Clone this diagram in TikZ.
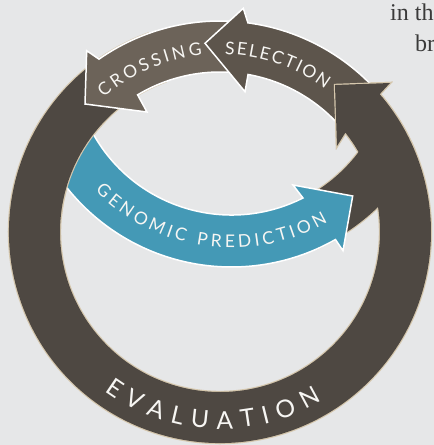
\documentclass[tikz,border=0pt]{standalone}
\usepackage{fontspec}
\setmainfont{Lato}
\newfontfamily\pageserif{Liberation Serif}
\usetikzlibrary{calc,decorations.text}

\definecolor{pagebg}{HTML}{E6E7E8}
\definecolor{ringbrown}{HTML}{4E4842}
\definecolor{ringedge}{HTML}{D5C7AD}
\definecolor{crossbrown}{HTML}{6C6359}
\definecolor{selbrown}{HTML}{5D554C}
\definecolor{gpblue}{HTML}{4499B6}
\definecolor{labeltext}{HTML}{F7F6F3}
\definecolor{bodytext}{HTML}{3A3A3A}

\newcommand\lblfont{\fontsize{17.5}{17.5}\selectfont}
\newcommand\evalfont{\fontsize{24.5}{24.5}\selectfont}

% evaluation ring (counter-clockwise, head at upper right)
\newcommand\ringshape{(335,85) -- (337,146) -- ($(C)+(-38.4:160)$)
  arc[start angle=-38.4, end angle=250, radius=160]
  -- ($(C)+(250:211)$) arc[start angle=250, end angle=-40.8, radius=211]
  -- (390,83) -- cycle}
% dark band where genomic prediction joins the ring
\newcommand\joinshape{($(B)+(66:159)$) arc[start angle=66, end angle=30, radius=159]
  -- ($(B)+(30:210)$) arc[start angle=30, end angle=66, radius=210] -- cycle}
% genomic prediction arrow
\newcommand\gpshape{($(B)+(152:158.5)$) arc[start angle=152, end angle=63.2, radius=158.5]
  -- (293,185) -- (352.7,196) -- (343,250.7)
  -- ($(B)+(60.4:210.5)$) arc[start angle=60.4, end angle=152, radius=210.5] -- cycle}
% crossing arrow
\newcommand\crossshape{($(C)+(-85:211)$) arc[start angle=-85, end angle=-125, radius=211]
  -- (86.7,50.7) -- (85,104) -- (147,112)
  -- ($(C)+(-121:160)$) arc[start angle=-121, end angle=-85, radius=160] -- cycle}
% selection arrow
\newcommand\selshape{($(C)+(-43.5:211)$) arc[start angle=-43.5, end angle=-82.4, radius=211]
  -- (243.3,8.3) -- (205,43.3) -- (245,91.7)
  -- ($(C)+(-79.9:160)$) arc[start angle=-79.9, end angle=-41.5, radius=160] -- cycle}

\tikzset{
  edgestroke/.style={draw=ringedge, line width=2.4pt, line join=miter},
  darkfill/.style={fill=ringbrown},
  whiteedge/.style={draw=white, line width=1.5pt, line join=miter},
  arclabel/.style={decorate, decoration={text along path, text align={fit to path}, text color=labeltext}}
}

\begin{document}
\begin{tikzpicture}[x=1pt,y=-1pt]
\useasboundingbox (0,0) rectangle (434,445);
\fill[pagebg] (0,0) rectangle (434,445);
\coordinate (C) at (220,232);
\coordinate (B) at (231.5,56.5);

% ring and joining band: outlines first, then fills
\path[edgestroke] \ringshape;
\path[edgestroke] \joinshape;
\path[darkfill] \joinshape;
\path[darkfill] \ringshape;

% genomic prediction arrow
\path[fill=gpblue, whiteedge] \gpshape;

% ring passes over the start of the blue arrow
\begin{scope}
  \clip (30,118) rectangle (120,215);
  \path[edgestroke] \ringshape;
  \path[darkfill] \ringshape;
\end{scope}

% crossing and selection arrows
\path[fill=crossbrown, whiteedge] \crossshape;
\path[fill=selbrown, whiteedge] \selshape;

% ring head lies on top of the selection tail
\begin{scope}
  \clip (318,62) rectangle (434,150);
  \path[edgestroke] \ringshape;
  \path[darkfill] \ringshape;
\end{scope}

% labels
\path[arclabel, decoration={text={|\lblfont|CROSSING}}]
  ($(C)+(-130.9:177.7)$) arc[start angle=-130.9, end angle=-95.7, radius=177.7];
\path[arclabel, decoration={text={|\lblfont|SELECTION}}]
  ($(C)+(-88.4:177.7)$) arc[start angle=-88.4, end angle=-53.7, radius=177.7];
\path[arclabel, decoration={text={|\evalfont|EVALUATION}}]
  ($(C)+(126:197)$) arc[start angle=126, end angle=59, radius=197];
\path[arclabel, decoration={text={|\lblfont|GENOMIC PREDICTION}}]
  ($(B)+(135.4:191.3)$) arc[start angle=135.4, end angle=59.8, radius=191.3];

% running text of the page
\node[anchor=base west, inner sep=0pt, text=bodytext, font=\pageserif\fontsize{24}{24}\selectfont] (line1) at (390,20) {in th};
\node[anchor=base west, inner sep=0pt, text=bodytext, font=\pageserif\fontsize{24}{24}\selectfont] (line2) at (415,51.7) {br};
\end{tikzpicture}
\end{document}
